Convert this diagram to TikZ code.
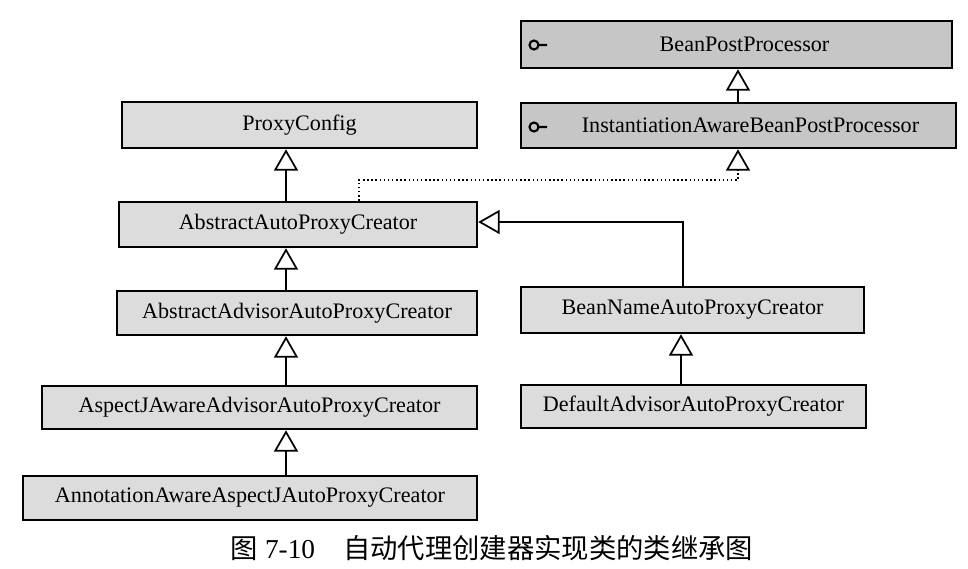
\documentclass[tikz,border=0pt]{standalone}
\usepackage{fontspec}
\setmainfont{Liberation Serif}
\newfontfamily\cjk{Noto Sans CJK SC}
\usetikzlibrary{arrows.meta}
\definecolor{classfill}{RGB}{220,220,220}
\definecolor{ifacefill}{RGB}{198,198,198}
\tikzset{
  classbox/.style={draw, line width=1.9pt, fill=classfill, inner sep=0pt,
    font=\fontsize{16.6}{18}\selectfont},
  ifacebox/.style={classbox, fill=ifacefill},
  inherit/.style={line width=1.6pt, -{Triangle[open, fill=white, length=16pt, width=18pt, line width=1.3pt]}},
  realize/.style={inherit, line width=1.1pt, dotted},
  lollipop/.style={line width=1.6pt}
}
\begin{document}
\begin{tikzpicture}[x=0.75pt, y=-0.75pt]
    \useasboundingbox (0,0) rectangle (968,568);
    % interfaces
    \node[ifacebox, minimum width=431*0.75pt, minimum height=47*0.75pt] (bpp) at (736.5,44.5) {\hspace*{12pt}BeanPostProcessor};
    \node[ifacebox, minimum width=435*0.75pt, minimum height=45*0.75pt] (iabpp) at (738.5,125.5) {\hspace*{18pt}InstantiationAwareBeanPostProcessor};
    \draw[lollipop] (534,45) circle (4.5) (538.5,45) -- (547,45);
    \draw[lollipop] (534,127) circle (4.5) (538.5,127) -- (547,127);
    % classes, left column
    \node[classbox, minimum width=355*0.75pt, minimum height=46*0.75pt] (pc) at (299.5,125) {ProxyConfig};
    \node[classbox, minimum width=358*0.75pt, minimum height=45*0.75pt] (aapc) at (298,224.5) {AbstractAutoProxyCreator};
    \node[classbox, minimum width=360*0.75pt, minimum height=44*0.75pt] (aaapc) at (297,313) {AbstractAdvisorAutoProxyCreator};
    \node[classbox, minimum width=435*0.75pt, minimum height=43*0.75pt] (ajaapc) at (259.5,407.5) {AspectJAwareAdvisorAutoProxyCreator};
    \node[classbox, minimum width=454*0.75pt, minimum height=44*0.75pt] (anajapc) at (250,498) {AnnotationAwareAspectJAutoProxyCreator};
    % classes, right column
    \node[classbox, minimum width=343*0.75pt, minimum height=46*0.75pt] (bnapc) at (692.5,310) {BeanNameAutoProxyCreator};
    \node[classbox, minimum width=345*0.75pt, minimum height=43*0.75pt] (daapc) at (693.5,406.5) {DefaultAdvisorAutoProxyCreator};
    % spines and bends
    \coordinate (lspine) at (286,0);
    \coordinate (rspine) at (681,0);
    \coordinate (tspine) at (738,0);
    \coordinate (dspine) at (359,0);
    \coordinate (dbend) at (0,180);
    \coordinate (hbend) at (0,222);
    % generalisations
    \draw[inherit] (iabpp.north -| tspine) -- (bpp.south -| tspine);
    \draw[inherit] (aapc.north -| lspine) -- (pc.south -| lspine);
    \draw[inherit] (aaapc.north -| lspine) -- (aapc.south -| lspine);
    \draw[inherit] (ajaapc.north -| lspine) -- (aaapc.south -| lspine);
    \draw[inherit] (anajapc.north -| lspine) -- (ajaapc.south -| lspine);
    \draw[inherit] (daapc.north -| rspine) -- (bnapc.south -| rspine);
    \draw[inherit] (bnapc.north -| 683,0) |- (aapc.east |- hbend);
    % realisation
    \draw[realize] (aapc.north -| dspine) |- (dbend -| tspine) -- (iabpp.south -| tspine);
    % caption
    \node[font=\fontsize{20.5}{24}\selectfont] (cap) at (492,548) {{\cjk 图} 7-10\hspace{21pt}{\cjk 自动代理创建器实现类的类继承图}};
\end{tikzpicture}
\end{document}
